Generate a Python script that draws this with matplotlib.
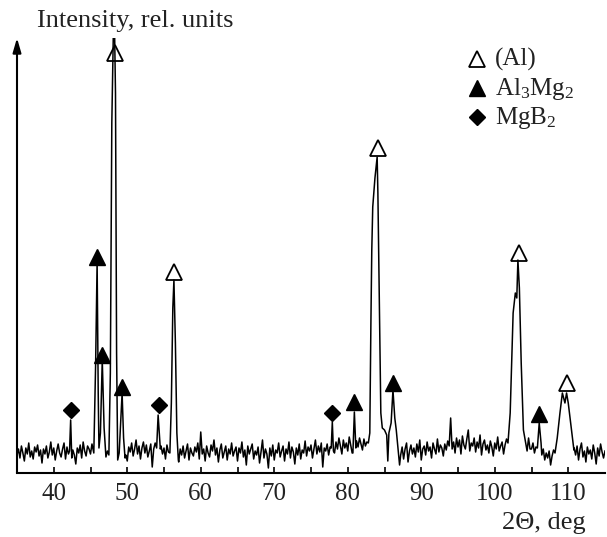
import numpy as np
import matplotlib
matplotlib.use('Agg')
import matplotlib.pyplot as plt

plt.rcParams['font.family'] = ['Liberation Serif', 'DejaVu Serif']
plt.rcParams['mathtext.fontset'] = 'custom'
plt.rcParams['mathtext.rm'] = 'Liberation Serif'
plt.rcParams['mathtext.default'] = 'regular'

# ---- background (noise) read at 0.2 deg steps from 35 to 115 deg ----
bg_start = 35.0
bg_step = 0.2
bg_counts = [
    18, 24, 15, 27, 20, 12, 25, 19, 30, 16,
    22, 14, 26, 21, 28, 17, 23, 10, 24, 19,
    27, 15, 21, 31, 18, 25, 13, 22, 29, 20,
    16, 24, 30, 14, 26, 19, 33, 12, 23, 18,
    9, 25, 20, 28, 15, 31, 22, 17, 27, 24,
    19, 29, 22, 20, 20, 20, 20, 20, 20, 20,
    16, 14, 20, 20, 20, 20, 20, 20, 20, 15,
    20, 20, 20, 20, 18, 12, 26, 21, 30, 17,
    24, 33, 19, 27, 14, 25, 31, 20, 28, 16,
    22, 29, 6, 24, 30, 20, 20, 20, 27, 19,
    25, 14, 28, 21, 20, 20, 20, 20, 20, 20,
    11, 24, 18, 27, 15, 22, 29, 13, 25, 20,
    17, 26, 21, 30, 14, 41, 19, 24, 12, 27,
    20, 16, 28, 22, 33, 18, 25, 11, 23, 29,
    15, 21, 27, 13, 24, 19, 30, 17, 22, 26,
    12, 25, 20, 31, 16, 23, 8, 27, 19, 24,
    29, 14, 22, 18, 26, 10, 21, 33, 15, 24,
    19, 5, 25, 17, 28, 13, 23, 20, 30, 16,
    22, 27, 12, 24, 19, 31, 15, 26, 21, 9,
    25, 18, 29, 14, 23, 20, 32, 17, 26, 22,
    28, 15, 24, 33, 19, 27, 21, 30, 6, 25,
    22, 29, 18, 26, 20, 20, 20, 31, 24, 35,
    27, 19, 33, 25, 30, 22, 36, 28, 20, 20,
    20, 32, 26, 35, 29, 23, 34, 27, 31, 20,
    20, 20, 20, 20, 20, 20, 20, 20, 20, 20,
    20, 20, 20, 20, 20, 20, 20, 20, 20, 20,
    20, 18, 26, 14, 24, 30, 11, 22, 28, 19,
    25, 16, 29, 21, 33, 13, 24, 27, 18, 31,
    22, 26, 15, 30, 24, 19, 34, 21, 28, 25,
    17, 29, 23, 32, 27, 55, 24, 31, 20, 35,
    26, 33, 19, 37, 28, 24, 34, 43, 22, 30,
    27, 35, 21, 31, 25, 38, 18, 29, 33, 23,
    28, 20, 32, 26, 17, 30, 24, 36, 22, 27,
    31, 19, 28, 34, 24, 20, 20, 20, 20, 20,
    20, 20, 20, 20, 20, 20, 27, 22, 35, 24,
    24, 30, 20, 26, 20, 20, 20, 18, 24, 13,
    20, 15, 22, 8, 17, 23, 14, 20, 20, 20,
    20, 20, 20, 20, 20, 20, 20, 20, 20, 25,
    18, 27, 13, 24, 30, 16, 22, 11, 26, 19,
    23, 14, 28, 20, 9, 25, 17, 29, 21, 15,
    22,
]

# ---- peak profiles (2theta, intensity) ----
p42_theta = [42.15, 42.3, 42.45]
p42_counts = [22, 53, 15]
p46_theta = [45.45, 45.7, 45.9, 46.05, 46.15, 46.35, 46.6, 46.85, 47.1, 47.3,
             47.5, 47.7, 47.9, 48.2, 48.4, 48.55, 48.7, 48.9, 49.1, 49.3, 49.5, 49.7]
p46_counts = [20, 110, 211, 80, 25, 40, 113, 45, 16, 22,
              18, 100, 350, 480, 380, 120, 13, 20, 50, 80, 35, 15]
p54_theta = [54.0, 54.2, 54.5]
p54_counts = [25, 58, 24]
p56_theta = [55.8, 56.0, 56.2, 56.35, 56.55, 56.75, 56.95]
p56_counts = [20, 70, 165, 193, 130, 40, 13]
p78_theta = [77.75, 77.9, 78.05]
p78_counts = [25, 51, 22]
p81_theta = [80.7, 80.9, 81.1]
p81_counts = [20, 61, 25]
p84_theta = [82.8, 83.0, 83.15, 83.27, 83.4, 83.7, 84.0, 84.1, 84.2, 84.35, 84.5,
             84.7, 85.0, 85.3, 85.45, 85.6, 85.9, 86.15, 86.4, 86.6, 87.05]
p84_counts = [30, 40, 150, 223, 266, 295, 316, 280, 223, 140, 60,
              45, 43, 38, 12, 40, 50, 83, 55, 43, 8]
p103_theta = [101.8, 102.1, 102.5, 102.8, 103.0, 103.15, 103.35, 103.6, 103.9, 104.3]
p103_counts = [30, 60, 160, 180, 175, 213, 185, 110, 43, 26]
p106_theta = [105.8, 106.05, 106.3]
p106_counts = [25, 50, 30]
p110_theta = [108.2, 108.5, 108.87, 109.2, 109.55, 109.77, 110.0, 110.45, 110.77]
p110_counts = [20, 35, 60, 80, 70, 80, 70, 43, 23]

# ---- phase markers ----
al_theta = [48.4, 56.4, 84.05, 103.3, 109.8]
al_marker = [420, 201, 325, 220, 90]
al3mg2_theta = [45.9, 46.6, 49.3, 80.9, 86.2, 106.0]
al3mg2_marker = [216, 118, 86, 71, 90, 59]
mgb2_theta = [42.3, 54.3, 77.9]
mgb2_marker = [63, 68, 60]

legend_labels = ['(Al)', r'Al$_3$Mg$_2$', r'MgB$_2$']
x_ticks = [40, 50, 60, 70, 80, 90, 100, 110]

# ---- merge profile ----
bg_theta = bg_start + bg_step * np.arange(len(bg_counts))
bg_i = np.array(bg_counts, dtype=float)
keep = np.ones(len(bg_theta), dtype=bool)
peaks = [(p42_theta, p42_counts), (p46_theta, p46_counts), (p54_theta, p54_counts),
         (p56_theta, p56_counts), (p78_theta, p78_counts), (p81_theta, p81_counts),
         (p84_theta, p84_counts), (p103_theta, p103_counts), (p106_theta, p106_counts),
         (p110_theta, p110_counts)]
for th, ct in peaks:
    keep &= ~((bg_theta >= min(th) - 1e-9) & (bg_theta <= max(th) + 1e-9))
all_theta = list(bg_theta[keep])
all_i = list(bg_i[keep])
for th, ct in peaks:
    all_theta += list(th)
    all_i += list(ct)
order = np.argsort(all_theta)
x = np.array(all_theta)[order]
y = np.array(all_i)[order]

W, H = 607, 537
fig = plt.figure(figsize=(W / 100, H / 100), dpi=100)
ax = fig.add_axes([17 / W, 1 - 473 / H, (605 - 17) / W, (473 - 38) / H])
ax.plot(x, y, color='black', lw=1.1)
ax.set_xlim(35, 115)
ax.set_ylim(0, 435)

for s in ['top', 'right', 'left']:
    ax.spines[s].set_visible(False)
ax.spines['bottom'].set_linewidth(1.5)
ax.set_yticks([])
ax.set_xticks(x_ticks)
ax.set_xticks([45, 55, 65, 75, 85, 95, 105], minor=True)
ax.tick_params(axis='x', which='both', direction='in', length=4.5, width=1.2,
               labelsize=18, pad=7, labelcolor='#222222')
ax.annotate('', xy=(0, 1), xytext=(0, 0), xycoords='axes fraction',
            arrowprops=dict(arrowstyle='-|>,head_length=0.86,head_width=0.25',
                            lw=1.5, color='black', mutation_scale=10,
                            shrinkA=0, shrinkB=0))

ms_tri = 11.5
ax.plot(al_theta, al_marker, linestyle='none', marker='^', ms=ms_tri,
        mfc='none', mec='black', mew=1.3, clip_on=False, zorder=5)
ax.plot(al3mg2_theta, al3mg2_marker, linestyle='none', marker='^', ms=ms_tri,
        mfc='black', mec='black', mew=1.0, clip_on=False, zorder=5)
ax.plot(mgb2_theta, mgb2_marker, linestyle='none', marker='D', ms=8.5,
        mfc='black', mec='black', mew=1.0, clip_on=False, zorder=5)

# legend (figure coordinates)
mk_px = 477
txt_px = 495
rows_marker = [59, 88, 117]
rows_base = [66, 95, 124]
styles = [dict(marker='^', ms=11, mfc='none', mec='black', mew=1.3),
          dict(marker='^', ms=11, mfc='black', mec='black', mew=1.0),
          dict(marker='D', ms=8, mfc='black', mec='black', mew=1.0)]
for lab, ym, yb, st in zip(legend_labels, rows_marker, rows_base, styles):
    fig.lines.append(matplotlib.lines.Line2D([mk_px / W], [1 - ym / H],
                     transform=fig.transFigure, linestyle='none', **st))
    fig.text(txt_px / W, 1 - yb / H, lab, fontsize=18, ha='left', va='baseline',
             color='#222222')

fig.text(37 / W, 1 - 27 / H, 'Intensity, rel. units', fontsize=19,
         ha='left', va='baseline', color='#222222')
fig.text(586 / W, 1 - 529 / H, '2\u0398, deg', fontsize=19,
         ha='right', va='baseline', color='#222222')

fig.savefig('out.png', dpi=100)
